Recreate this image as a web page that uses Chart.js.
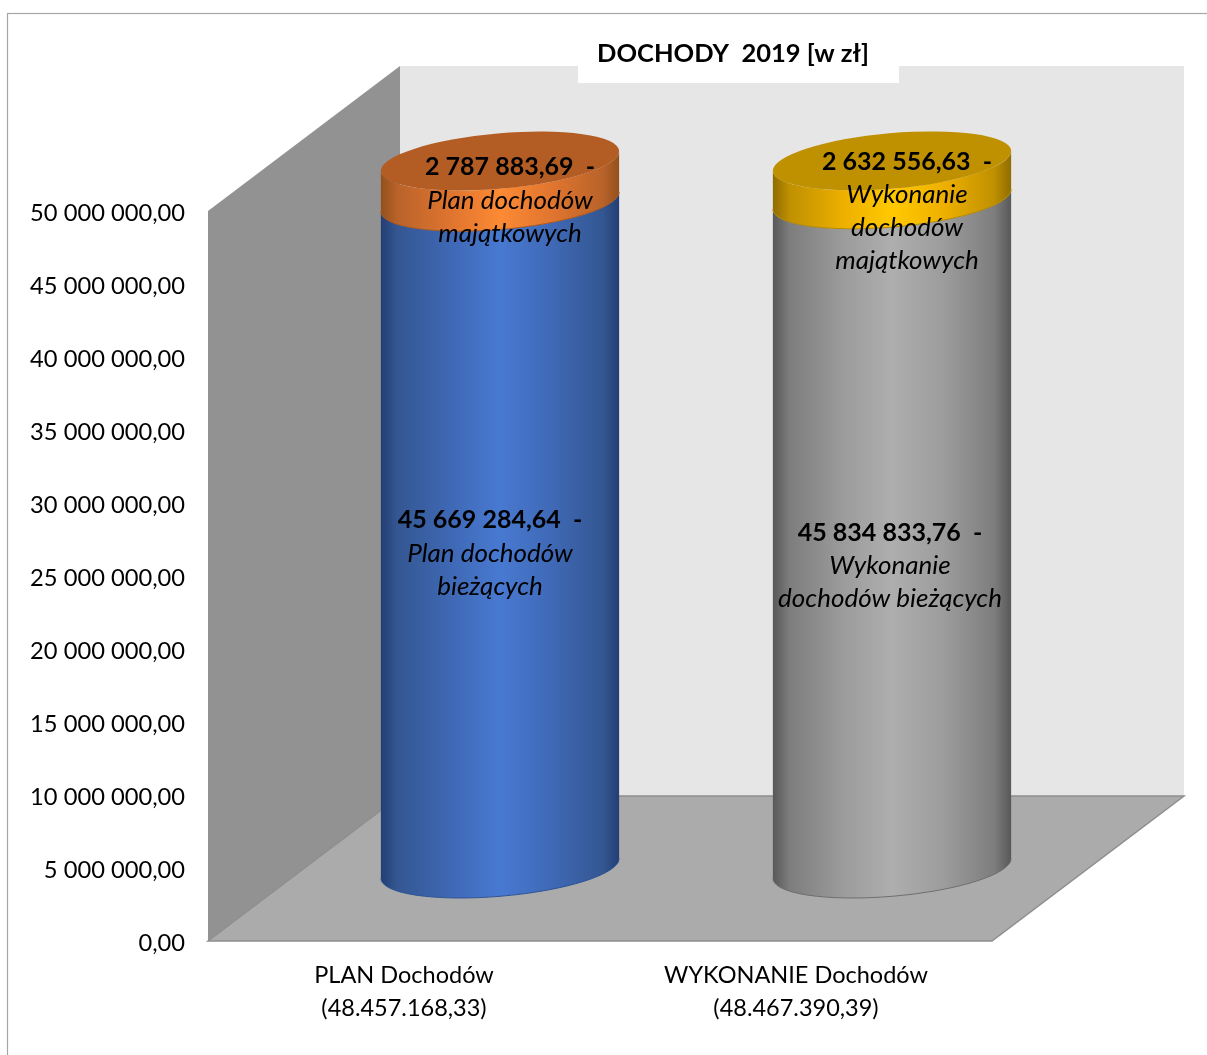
<!DOCTYPE html>
<html>
<head>
<meta charset="utf-8">
<title>DOCHODY 2019</title>
<script src="https://cdn.jsdelivr.net/npm/chart.js@4"></script>
<style>
  html, body { margin: 0; padding: 0; background: #fff; }
  canvas { display: block; }
</style>
</head>
<body>
<canvas id="incomeChart" width="1207" height="1055"></canvas>
<script>
// Chart data
const categories = [
  ['PLAN Dochodów', '(48.457.168,33)'],
  ['WYKONANIE Dochodów', '(48.467.390,39)']
];
const currentIncome = [45669284.64, 45834833.76];
const propertyIncome = [2787883.69, 2632556.63];
const currentCaptions = [['Plan dochodów', 'bieżących'], ['Wykonanie', 'dochodów bieżących']];
const propertyCaptions = [['Plan dochodów', 'majątkowych'], ['Wykonanie', 'dochodów', 'majątkowych']];
const chartTitle = 'DOCHODY  2019 [w zł]';

// Look of the fake 3D box and cylinders
const FONT = 'Lato, Carlito, sans-serif';
const DEPTH_X = 192;
const DEPTH_Y = 145;
const ELLIPSE_B = 27.7;
const ELLIPSE_ROT = -5 * Math.PI / 180;

const sideStops = [0, 0.07, 0.3, 0.5, 0.72, 0.93, 1];
const sideColors = {
  blue: ['#233e73', '#345792', '#3f69b6', '#4879d1', '#3f69b6', '#345792', '#233e73'],
  gray: ['#585858', '#7d7d7d', '#9c9c9c', '#aeaeae', '#9c9c9c', '#7d7d7d', '#585858'],
  orange: ['#93501c', '#b9632a', '#e0752f', '#fd8a34', '#e0752f', '#b9632a', '#93501c'],
  gold: ['#8f6c00', '#bf9000', '#eeb000', '#ffc900', '#eeb000', '#bf9000', '#8f6c00']
};
const capColors = { orange: '#b35d24', gold: '#bf9000' };
const edgeColors = { blue: '#2f5597', gray: '#6f6f6f', orange: '#a9561f', gold: '#b58900' };

function formatMoney(num) {
  const parts = num.toFixed(2).split('.');
  return parts[0].replace(/\B(?=(\d{3})+(?!\d))/g, ' ') + ',' + parts[1];
}

// Walls, floor, frame and the white title box go under everything else
const boxPlugin = {
  id: 'box',
  beforeDraw(chart) {
    const ctx = chart.ctx;
    const { left, right, top, bottom } = chart.chartArea;
    ctx.save();
    ctx.fillStyle = '#fff';
    ctx.fillRect(0, 0, chart.width, chart.height);
    ctx.strokeStyle = '#a6a6a6';
    ctx.lineWidth = 1.2;
    ctx.strokeRect(7.5, 13.5, chart.width + 20, chart.height + 20);

    // back wall
    ctx.fillStyle = '#e6e6e6';
    ctx.fillRect(left + DEPTH_X, top - DEPTH_Y, right - left, bottom - top);
    // left wall
    ctx.fillStyle = '#929292';
    ctx.beginPath();
    ctx.moveTo(left, top);
    ctx.lineTo(left + DEPTH_X, top - DEPTH_Y);
    ctx.lineTo(left + DEPTH_X, bottom - DEPTH_Y);
    ctx.lineTo(left, bottom);
    ctx.closePath();
    ctx.fill();
    // floor
    ctx.fillStyle = '#ababab';
    ctx.strokeStyle = '#8e8e8e';
    ctx.lineWidth = 1.5;
    ctx.beginPath();
    ctx.moveTo(left, bottom);
    ctx.lineTo(left + DEPTH_X, bottom - DEPTH_Y);
    ctx.lineTo(right + DEPTH_X, bottom - DEPTH_Y);
    ctx.lineTo(right, bottom);
    ctx.closePath();
    ctx.fill();
    ctx.stroke();

    // title box cuts into the back wall
    ctx.fillStyle = '#fff';
    ctx.fillRect(578, 50, 321, 33);
    ctx.restore();
  }
};

function cylinderSide(ctx, x, yTop, yBase, a, colors) {
  const t0 = Math.atan2(-ELLIPSE_B * Math.sin(ELLIPSE_ROT), a * Math.cos(ELLIPSE_ROT));
  const halfW = Math.sqrt(a * a * Math.cos(ELLIPSE_ROT) ** 2 + ELLIPSE_B ** 2 * Math.sin(ELLIPSE_ROT) ** 2);
  const grad = ctx.createLinearGradient(x - halfW, 0, x + halfW, 0);
  sideStops.forEach((s, i) => grad.addColorStop(s, sideColors[colors][i]));

  ctx.beginPath();
  ctx.ellipse(x, yBase, a, ELLIPSE_B, ELLIPSE_ROT, t0, t0 + Math.PI, false);
  ctx.ellipse(x, yTop, a, ELLIPSE_B, ELLIPSE_ROT, t0 + Math.PI, t0, true);
  ctx.closePath();
  ctx.fillStyle = grad;
  ctx.fill();

  // thin edge along the lower rim
  ctx.beginPath();
  ctx.ellipse(x, yBase, a, ELLIPSE_B, ELLIPSE_ROT, t0, t0 + Math.PI, false);
  ctx.strokeStyle = edgeColors[colors];
  ctx.lineWidth = 1;
  ctx.stroke();
}

// Cylinders take their place and height from the stacked bar elements
const cylinderPlugin = {
  id: 'cylinders',
  beforeDatasetDraw() {
    return false;
  },
  afterDatasetsDraw(chart) {
    const ctx = chart.ctx;
    const lower = chart.getDatasetMeta(0).data;
    const upper = chart.getDatasetMeta(1).data;
    ctx.save();
    lower.forEach((bar, i) => {
      const x = bar.x + DEPTH_X / 2;
      const a = bar.width / 2;
      const shift = DEPTH_Y / 2;
      const top = upper[i];
      const lowerColor = i === 0 ? 'blue' : 'gray';
      const upperColor = i === 0 ? 'orange' : 'gold';
      cylinderSide(ctx, x, bar.y - shift, bar.base - shift, a, lowerColor);
      cylinderSide(ctx, x, top.y - shift, top.base - shift, a, upperColor);
      ctx.beginPath();
      ctx.ellipse(x, top.y - shift, a, ELLIPSE_B, ELLIPSE_ROT, 0, Math.PI * 2);
      ctx.fillStyle = capColors[upperColor];
      ctx.fill();
    });
    ctx.restore();
  }
};

// Where each value label sits relative to the middle of its segment
const lowerLabelShift = [[-10, 18], [-2, 32]];
const upperLabelShift = [[10, 19], [15, 31]];
const LINE_HEIGHT = 33;

function drawLabel(ctx, x, y, value, captions) {
  const lines = captions.length + 1;
  let lineY = y - (lines - 1) * LINE_HEIGHT / 2;
  ctx.font = 'bold 25px ' + FONT;
  ctx.fillText(formatMoney(value) + '  -', x, lineY);
  ctx.font = 'italic 26px ' + FONT;
  captions.forEach(line => {
    lineY += LINE_HEIGHT;
    ctx.fillText(line, x, lineY);
  });
}

const labelPlugin = {
  id: 'segmentLabels',
  afterDraw(chart) {
    const ctx = chart.ctx;
    const shift = DEPTH_Y / 2;
    ctx.save();
    ctx.fillStyle = '#000';
    ctx.textAlign = 'center';
    ctx.textBaseline = 'middle';
    chart.getDatasetMeta(0).data.forEach((bar, i) => {
      const mid = (bar.y + bar.base) / 2 - shift;
      drawLabel(ctx, bar.x + DEPTH_X / 2 + lowerLabelShift[i][0], mid + lowerLabelShift[i][1], currentIncome[i], currentCaptions[i]);
    });
    chart.getDatasetMeta(1).data.forEach((bar, i) => {
      const mid = (bar.y + bar.base) / 2 - shift;
      drawLabel(ctx, bar.x + DEPTH_X / 2 + upperLabelShift[i][0], mid + upperLabelShift[i][1], propertyIncome[i], propertyCaptions[i]);
    });
    ctx.font = 'bold 25.5px ' + FONT;
    ctx.fillText(chartTitle, 733, 54);
    ctx.restore();
  }
};

new Chart(document.getElementById('incomeChart').getContext('2d'), {
  type: 'bar',
  data: {
    labels: categories,
    datasets: [
      { label: 'Dochody bieżące', data: currentIncome, backgroundColor: ['#4472c4', '#a5a5a5'] },
      { label: 'Dochody majątkowe', data: propertyIncome, backgroundColor: ['#ed7d31', '#ffc000'] }
    ]
  },
  options: {
    responsive: false,
    devicePixelRatio: 1,
    animation: false,
    categoryPercentage: 0.61,
    barPercentage: 1,
    layout: { padding: { left: 0, top: 211, right: 215, bottom: 0 } },
    scales: {
      x: {
        stacked: true,
        grid: { display: false },
        border: { display: false },
        afterFit(scale) { scale.height = 114; },
        ticks: {
          color: '#000',
          padding: 10,
          maxRotation: 0,
          font: { family: FONT, size: 23.5, lineHeight: 1.4 }
        }
      },
      y: {
        stacked: true,
        min: 0,
        max: 50000000,
        grid: { display: false, drawTicks: false },
        border: { display: false },
        afterFit(scale) { scale.width = 208; },
        ticks: {
          color: '#000',
          padding: 23,
          labelOffset: 2,
          stepSize: 5000000,
          font: { family: FONT, size: 23.7 },
          callback: value => formatMoney(value)
        }
      }
    },
    plugins: {
      legend: { display: false },
      tooltip: { enabled: false }
    }
  },
  plugins: [boxPlugin, cylinderPlugin, labelPlugin]
});
</script>
</body>
</html>
